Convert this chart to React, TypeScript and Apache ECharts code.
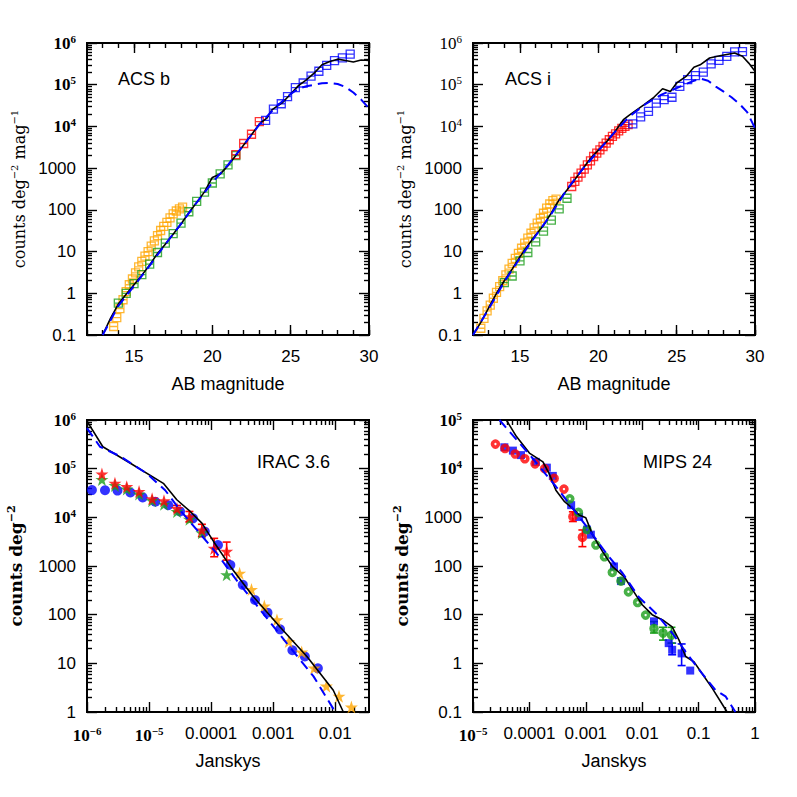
import { useEffect, useRef } from 'react';
import * as echarts from 'echarts';

// ---------- Panel 1: ACS b (AB magnitude, counts deg^-2 mag^-1) ----------
const acsbOrange = [[13.7,0.16],[13.9,0.26],[14.1,0.43],[14.3,0.7],[14.5,1.1],[14.7,1.6],[14.9,2.2],[15.1,3.1],[15.3,4.3],[15.5,5.8],[15.7,7.8],[15.9,10],[16.1,13.5],[16.3,18],[16.5,24],[16.7,32],[16.9,40],[17.1,50],[17.3,64],[17.5,80],[17.7,94],[17.9,106],[18.1,116]];
const acsbGreen = [[14.0,0.58],[14.5,1.0],[15.0,1.7],[15.5,2.8],[16.0,5.0],[16.5,9.5],[17.0,16],[17.5,27],[18.0,48],[18.5,90],[19.0,160],[19.5,265],[20.0,440],[20.5,730],[21.0,1200],[21.5,2000]];
const acsbRed = [[21.5,2100],[22.0,3900],[22.5,6500],[23.0,13000]];
const acsbBlue = [[23.4,14000],[23.9,26000],[24.4,35000],[24.8,52000],[25.3,85000],[25.8,110000],[26.3,160000],[26.8,210000],[27.3,290000],[27.8,380000],[28.3,440000],[28.8,540000]];
const acsbModel = [[13,0.1],[13.5,0.25],[14,0.55],[14.5,0.95],[15,1.6],[15.5,2.7],[16,4.8],[16.5,9],[17,15],[17.5,26],[18,46],[18.5,85],[19,150],[19.5,270],[20,600],[20.5,720],[21,1150],[21.5,2000],[22,3600],[22.5,6300],[23,11500],[23.5,16000],[23.8,25000],[24.5,38000],[25,60000],[25.5,95000],[26,130000],[26.5,190000],[27,300000],[27.5,360000],[28,410000],[28.5,380000],[29,350000],[29.5,390000],[30,380000]];
const acsbNoEvol = [[13,0.1],[14,0.5],[15,1.5],[16,4.6],[17,15],[18,46],[19,150],[20,450],[21,1200],[22,3600],[23,11000],[24,28000],[25,60000],[25.5,80000],[26,92000],[26.5,100000],[27,108000],[27.5,110000],[28,104000],[28.5,88000],[29,65000],[29.5,44000],[30,27000]];

// ---------- Panel 2: ACS i ----------
const acsiOrange = [[12.5,0.145],[12.7,0.25],[12.9,0.38],[13.1,0.52],[13.3,0.76],[13.5,1.05],[13.7,1.45],[13.9,2.0],[14.1,2.75],[14.3,3.8],[14.5,5.2],[14.7,6.9],[14.9,9.1],[15.1,12],[15.3,16],[15.5,21],[15.7,27.5],[15.9,37],[16.1,48],[16.3,63],[16.5,83],[16.7,110],[16.9,138],[17.1,167],[17.3,180]];
const acsiGreen = [[14.0,1.8],[14.5,2.6],[15.0,6],[15.5,9.5],[16.0,17],[16.5,31],[17.0,57],[17.5,105],[18.0,190]];
const acsiRed = [[18.3,363],[18.5,480],[18.7,610],[18.9,760],[19.1,950],[19.3,1200],[19.5,1500],[19.7,1900],[19.9,2300],[20.1,2750],[20.3,3300],[20.5,4000],[20.7,4800],[20.9,5750],[21.1,6600],[21.3,7800],[21.5,9000],[21.7,10000],[21.9,11000]];
const acsiBlue = [[22.2,11500],[22.7,17000],[23.2,23000],[23.7,36000],[24.2,44000],[24.7,50000],[25.2,91000],[25.7,132000],[26.2,165000],[26.7,200000],[27.2,316000],[27.7,384000],[28.2,480000],[28.7,610000],[29.2,620000]];
const acsiModel = [[12,0.1],[12.5,0.2],[13,0.45],[13.5,1.0],[14,2.0],[14.5,3.8],[15,7.5],[15.5,14],[16,25],[16.5,42],[17,85],[17.5,175],[18,300],[18.5,530],[19,950],[19.5,1700],[20,2700],[20.5,4200],[21,7000],[21.6,14500],[22,19000],[22.9,33000],[23.5,48000],[24.1,80000],[24.6,69000],[25,110000],[25.6,158000],[26.1,263000],[26.5,300000],[27.1,437000],[27.6,480000],[28.1,525000],[28.7,575000],[29.2,480000],[29.6,330000],[30,210000]];
const acsiNoEvol = [[12,0.1],[13,0.42],[14,1.9],[15,7],[16,24],[17,80],[18,310],[19,950],[20,2600],[21,7000],[22,17500],[23,34000],[24,57000],[25,83000],[25.5,100000],[26,120000],[26.5,140000],[27,125000],[27.5,90000],[28,68000],[28.5,50000],[29,35000],[29.5,22000],[30,9000]];

// ---------- Panel 3: IRAC 3.6 (Janskys, counts deg^-2) ----------
const iracBlue = [[1.2e-6,36300],[1.95e-6,36000],[3.1e-6,35500],[5.0e-6,32400],[7.9e-6,25700],[1.26e-5,20900],[2.04e-5,17800],[3.16e-5,13200],[5.1e-5,9550],[7.9e-5,5100],[1.29e-4,2700],[2.04e-4,1050],[3.24e-4,410],[5.1e-4,200],[8.1e-4,110],[1.29e-3,50],[2.04e-3,18.6],[3.24e-3,13.8],[5.25e-3,7.9]];
const iracRed = [[1.74e-6,77600],[2.82e-6,50100],[4.37e-6,42700],[6.9e-6,33900],[1.12e-5,24000],[1.74e-5,21900],[2.82e-5,15100],[4.47e-5,10200],[7.1e-5,5500],[1.12e-4,2300],[1.78e-4,2000]];
const iracRedErr = [[2.82e-5,13000,17500],[4.47e-5,8100,13200],[7.1e-5,4000,7200],[1.12e-4,1550,3700],[1.78e-4,1320,3100]];
const iracGreen = [[1.74e-6,60000],[2.82e-6,45000],[4.37e-6,38000],[6.9e-6,30000],[1.12e-5,22000],[1.74e-5,18600],[2.82e-5,13200],[4.47e-5,9100],[7.1e-5,4800],[1.78e-4,660]];
const iracOrange = [[2.88e-4,710],[4.47e-4,330],[7.2e-4,150],[1.15e-3,78],[1.78e-3,28],[2.88e-3,17],[4.57e-3,8],[7.2e-3,3.4],[1.15e-2,2.1],[1.82e-2,1.26]];
const iracModel = [[1.0e-6,950000],[1.8e-6,282000],[5e-6,129000],[1.7e-5,50000],[2.8e-5,23000],[4.6e-5,13200],[7.1e-5,7600],[1.1e-4,3160],[2.04e-4,980],[4.8e-4,234],[1.29e-3,56],[3.5e-3,13.8],[9.3e-3,2.8],[1.35e-2,1.0],[1.6e-2,0.7]];
const iracNoEvol = [[1e-6,680000],[1.62e-6,282000],[3.47e-6,178000],[9.3e-6,79000],[1.82e-5,36000],[3.16e-5,14100],[5.9e-5,5500],[1.23e-4,1820],[2.57e-4,510],[6.2e-4,126],[1.66e-3,25.7],[4.47e-3,5.4],[1e-2,1.0],[1.26e-2,0.7]];

// ---------- Panel 4: MIPS 24 ----------
const mipsRed = [[2.5e-5,32000],[3.7e-5,26000],[5.6e-5,20000],[8.3e-5,16000],[1.26e-4,12600],[1.86e-4,10000],[2.75e-4,6300],[4.1e-4,3800],[5.9e-4,1030],[8.7e-4,390]];
const mipsRedErr = [[5.9e-4,820,1300],[8.7e-4,250,550]];
const mipsBlue = [[3.6e-5,27500],[5.1e-5,23500],[7.1e-5,19000],[1.3e-4,13800],[2.04e-4,10500],[2.6e-4,7100],[5.5e-4,1780],[7.6e-4,1020],[1.05e-3,560],[1.23e-3,440],[3.16e-3,98],[4.2e-3,49],[1.62e-2,7.3],[2.95e-2,2.6],[3.4e-2,1.9],[5e-2,1.6],[7.1e-2,0.71]];
const mipsBlueErr = [[3.4e-2,1.5,2.6],[5e-2,0.9,2.5]];
const mipsGreen = [[5.2e-4,2400],[7.4e-4,1260],[1.05e-3,560],[1.51e-3,270],[2.14e-3,155],[2.95e-3,74],[4.2e-3,49],[5.7e-3,29.5],[8.3e-3,17.8],[1.15e-2,9.8],[1.62e-2,5.2],[2.34e-2,4.2],[3.3e-2,3.8]];
const mipsGreenErr = [[1.62e-2,4.2,7.2],[2.34e-2,3.0,5.5],[3.3e-2,2.6,5.5]];
const mipsModel = [[3.9e-5,100000],[5.9e-5,45700],[1e-4,20900],[1.74e-4,13800],[2.24e-4,7900],[2.95e-4,3600],[4.2e-4,2100],[5.9e-4,1510],[7.6e-4,1120],[1e-3,980],[1.32e-3,436],[2e-3,195],[2.95e-3,98],[4.8e-3,60],[6.8e-3,32],[1e-2,16],[1.5e-2,10],[2.3e-2,7.8],[3.4e-2,5.6],[4.5e-2,3.0],[5.9e-2,1.38],[8.3e-2,1.07],[0.115,0.62],[0.174,0.31],[0.32,0.1]];
const mipsNoEvol = [[2.95e-5,100000],[1.07e-4,17800],[2.95e-4,4300],[5.9e-4,1510],[1.15e-3,550],[2.3e-3,182],[4.5e-3,71],[8.7e-3,23],[1.74e-2,10.7],[3.4e-2,4.2],[6.8e-2,1.38],[0.115,0.62],[0.2,0.28],[0.3,0.21],[0.45,0.1]];

// ---------- Tick values and labels ----------
const magTicks = [15, 20, 25, 30];
const magLabels = ['15', '20', '25', '30'];
const magMinorTicks = [12,13,14,15,16,17,18,19,20,21,22,23,24,25,26,27,28,29,30];

const countTicksTop = [0.1, 1, 10, 100, 1000, 1e4, 1e5, 1e6];
const countLabelsTopB = ['0.1','1','10','100','1000','{e|10}{p|4}','{e|10}{p|5}','{e|10}{p|6}'];
const countLabelsTopI = ['0.1','1','10','100','1000','{r|10}{q|4}','{r|10}{q|5}','{r|10}{q|6}'];
const countTicksIrac = [1, 10, 100, 1000, 1e4, 1e5, 1e6];
const countLabelsIrac = ['1','10','100','1000','{e|10}{p|4}','{e|10}{p|5}','{e|10}{p|6}'];
const countTicksMips = [0.1, 1, 10, 100, 1000, 1e4, 1e5];
const countLabelsMips = ['0.1','1','10','100','1000','{e|10}{p|4}','{e|10}{p|5}'];

const janTicksIrac = [1e-6, 1e-5, 1e-4, 1e-3, 1e-2];
const janLabelsIrac = ['{e|10}{p|−6}','{e|10}{p|−5}','0.0001','0.001','0.01'];
const janTicksMips = [1e-5, 1e-4, 1e-3, 1e-2, 0.1, 1];
const janLabelsMips = ['{e|10}{p|−5}','0.0001','0.001','0.01','0.1','1'];

function logMinors(kFrom: number, kTo: number, lo: number, hi: number) {
  const out: number[] = [];
  for (let k = kFrom; k <= kTo; k++) {
    for (let m = 2; m <= 9; m++) {
      const v = m * Math.pow(10, k);
      if (v >= lo * 0.999999 && v <= hi * 1.000001) out.push(v);
    }
  }
  return out;
}

const SANS = "'Liberation Sans', Arial, Helvetica, sans-serif";
const SERIF = "'Liberation Serif', 'Times New Roman', serif";
const TSERIF = "'DejaVu Serif', serif";
const ORANGE = '#ffa500';
const GREEN = '#1a9e1a';
const RED = '#ff0000';
const BLUE = '#0000ff';
const SQUARE = 'path://M0,0L10,0L10,10L0,10Z M0,5L10,5';
const STAR = 'path://M50,0L61.2,34.5L97.6,34.5L68.2,55.9L79.4,90.5L50,69.1L20.6,90.5L31.8,55.9L2.4,34.5L38.8,34.5Z';

const labelRich = {
  e: { fontFamily: SERIF, fontWeight: 'bold', fontSize: 17, lineHeight: 20, color: '#000' },
  p: { fontFamily: SERIF, fontWeight: 'bold', fontSize: 11, lineHeight: 11, verticalAlign: 'top', color: '#000' },
  r: { fontFamily: SERIF, fontSize: 17, lineHeight: 20, color: '#000' },
  q: { fontFamily: SERIF, fontSize: 11, lineHeight: 11, verticalAlign: 'top', color: '#000' },
};

function labelFor(v: number, vals: number[], labels: string[]) {
  for (let i = 0; i < vals.length; i++) {
    if (Math.abs(v - vals[i]) <= Math.abs(vals[i]) * 1e-6 + 1e-14) return labels[i];
  }
  return '';
}

function axisSet(dim: 'x' | 'y', gridIndex: number, type: 'value' | 'log', min: number, max: number,
  majors: number[], minors: number[], labels: string[], name: any, nameGap: number, nameStyle: any) {
  const posA = dim === 'x' ? 'bottom' : 'left';
  const posB = dim === 'x' ? 'top' : 'right';
  const base: any = { gridIndex, type, min, max, splitLine: { show: false }, axisLine: { show: false }, silent: true };
  if (type === 'log') base.logBase = 10;
  const tick = (vals: number[], len: number) => ({ show: true, inside: true, length: len, customValues: vals, lineStyle: { color: '#000', width: 1.4 } });
  const off = { show: false };
  return [
    {
      ...base, position: posA, axisTick: tick(majors, 10),
      axisLabel: {
        show: true, customValues: majors, margin: dim === 'x' ? 13 : 11, color: '#000',
        fontFamily: SANS, fontSize: 17, rich: labelRich,
        formatter: (v: number) => labelFor(v, majors, labels),
      },
      name, nameLocation: 'middle', nameGap, nameRotate: dim === 'y' ? 90 : 0, nameTextStyle: nameStyle,
    },
    { ...base, position: posA, axisTick: tick(minors, 5), axisLabel: off },
    { ...base, position: posB, axisTick: tick(majors, 10), axisLabel: off },
    { ...base, position: posB, axisTick: tick(minors, 5), axisLabel: off },
  ];
}

const xNameStyle = { fontFamily: SANS, fontSize: 18, color: '#000' };
const yNameTop = {
  color: '#000',
  rich: {
    t: { fontFamily: TSERIF, fontSize: 16, lineHeight: 20, color: '#000' },
    u: { fontFamily: TSERIF, fontSize: 10, lineHeight: 10, verticalAlign: 'top', color: '#000' },
  },
};
const yNameBottom = {
  color: '#000',
  rich: {
    t: { fontFamily: TSERIF, fontWeight: 'bold', fontSize: 17, lineHeight: 20, color: '#000' },
    u: { fontFamily: TSERIF, fontWeight: 'bold', fontSize: 11, lineHeight: 10, verticalAlign: 'top', color: '#000' },
  },
};

const sq = (data: number[][], color: string, a: number) => ({
  type: 'scatter', xAxisIndex: a, yAxisIndex: a, data, symbol: SQUARE, symbolSize: 8, silent: true, z: 2,
  itemStyle: { color: 'rgba(0,0,0,0)', borderColor: color, borderWidth: 1.3 },
});
const filled = (data: number[][], color: string, a: number, symbol: string, size: number) => ({
  type: 'scatter', xAxisIndex: a, yAxisIndex: a, data, symbol, symbolSize: size, silent: true, z: 2,
  itemStyle: { color },
});
const ring = (data: number[][], color: string, a: number) => ({
  type: 'scatter', xAxisIndex: a, yAxisIndex: a, data, symbol: 'circle', symbolSize: 6, silent: true, z: 2,
  itemStyle: { color: 'rgba(0,0,0,0)', borderColor: color, borderWidth: 3.6 },
});
const ln = (data: number[][], a: number, dashed: boolean) => ({
  type: 'line', xAxisIndex: a, yAxisIndex: a, data, showSymbol: false, symbol: 'none', silent: true, z: 3,
  lineStyle: dashed ? { color: BLUE, width: 2, type: [10, 6] } : { color: '#000', width: 1.6 },
});
const err = (data: number[][], color: string, a: number) => ({
  type: 'custom', xAxisIndex: a, yAxisIndex: a, data, encode: { x: 0, y: [1, 2] }, silent: true, z: 2,
  renderItem: (_p: any, api: any) => {
    const x = api.value(0);
    const lo = api.coord([x, api.value(1)]);
    const hi = api.coord([x, api.value(2)]);
    const st = { stroke: color, lineWidth: 1.6 };
    return {
      type: 'group',
      children: [
        { type: 'line', shape: { x1: lo[0], y1: lo[1], x2: hi[0], y2: hi[1] }, style: st },
        { type: 'line', shape: { x1: lo[0] - 4, y1: lo[1], x2: lo[0] + 4, y2: lo[1] }, style: st },
        { type: 'line', shape: { x1: hi[0] - 4, y1: hi[1], x2: hi[0] + 4, y2: hi[1] }, style: st },
      ],
    };
  },
});

export default function App() {
  const ref = useRef<HTMLDivElement>(null);
  useEffect(() => {
    if (!ref.current) return;
    const chart = echarts.init(ref.current, undefined, { renderer: 'svg' });
    const gridBase = { show: true, borderColor: '#000', borderWidth: 2, backgroundColor: 'transparent', containLabel: false, outerBoundsMode: 'none' };
    const grids = [
      { ...gridBase, left: 87, top: 43, width: 282, height: 292 },
      { ...gridBase, left: 473, top: 43, width: 282, height: 292 },
      { ...gridBase, left: 87, top: 420, width: 282, height: 292 },
      { ...gridBase, left: 473, top: 420, width: 282, height: 292 },
    ];
    const yNameTopText = '{t|counts deg}{u|−2}{t| mag}{u|−1}';
    const yNameBottomText = '{t|counts deg}{u|−2}';
    const xAxes = [
      ...axisSet('x', 0, 'value', 12, 30, magTicks, magMinorTicks, magLabels, 'AB magnitude', 40, xNameStyle),
      ...axisSet('x', 1, 'value', 12, 30, magTicks, magMinorTicks, magLabels, 'AB magnitude', 40, xNameStyle),
      ...axisSet('x', 2, 'log', 1e-6, 0.035, janTicksIrac, logMinors(-6, -2, 1e-6, 0.035), janLabelsIrac, 'Janskys', 40, xNameStyle),
      ...axisSet('x', 3, 'log', 1e-5, 1, janTicksMips, logMinors(-5, -1, 1e-5, 1), janLabelsMips, 'Janskys', 40, xNameStyle),
    ];
    const yAxes = [
      ...axisSet('y', 0, 'log', 0.1, 1e6, countTicksTop, logMinors(-1, 5, 0.1, 1e6), countLabelsTopB, yNameTopText, 58, yNameTop),
      ...axisSet('y', 1, 'log', 0.1, 1e6, countTicksTop, logMinors(-1, 5, 0.1, 1e6), countLabelsTopI, yNameTopText, 58, yNameTop),
      ...axisSet('y', 2, 'log', 1, 1e6, countTicksIrac, logMinors(0, 5, 1, 1e6), countLabelsIrac, yNameBottomText, 61, yNameBottom),
      ...axisSet('y', 3, 'log', 0.1, 1e5, countTicksMips, logMinors(-1, 4, 0.1, 1e5), countLabelsMips, yNameBottomText, 61, yNameBottom),
    ];
    const A0 = 0, A1 = 4, A2 = 8, A3 = 12;
    const series = [
      sq(acsbOrange, ORANGE, A0), sq(acsbGreen, GREEN, A0), sq(acsbRed, RED, A0), sq(acsbBlue, BLUE, A0),
      ln(acsbModel, A0, false), ln(acsbNoEvol, A0, true),
      sq(acsiOrange, ORANGE, A1), sq(acsiGreen, GREEN, A1), sq(acsiRed, RED, A1), sq(acsiBlue, BLUE, A1),
      ln(acsiModel, A1, false), ln(acsiNoEvol, A1, true),
      filled(iracBlue, BLUE, A2, 'circle', 10),
      filled(iracGreen, GREEN, A2, STAR, 13),
      err(iracRedErr, RED, A2),
      filled(iracRed, RED, A2, STAR, 13),
      filled(iracOrange, ORANGE, A2, STAR, 13),
      ln(iracModel, A2, false), ln(iracNoEvol, A2, true),
      err(mipsBlueErr, BLUE, A3),
      filled(mipsBlue, BLUE, A3, 'rect', 8),
      err(mipsRedErr, RED, A3),
      ring(mipsRed, RED, A3),
      err(mipsGreenErr, GREEN, A3),
      ring(mipsGreen, GREEN, A3),
      ln(mipsModel, A3, false), ln(mipsNoEvol, A3, true),
    ];
    const txt = (text: string, x: number, y: number) => ({
      type: 'text', x, y, silent: true,
      style: { text, fill: '#000', font: `18px ${SANS}`, textVerticalAlign: 'middle', verticalAlign: 'middle' },
    });
    chart.setOption({
      animation: false,
      backgroundColor: '#fff',
      grid: grids,
      xAxis: xAxes,
      yAxis: yAxes,
      series,
      graphic: [
        txt('ACS b', 118, 79),
        txt('ACS i', 505, 79),
        txt('IRAC 3.6', 257, 462),
        txt('MIPS 24', 643, 462),
      ],
    } as any);
    return () => chart.dispose();
  }, []);
  return <div ref={ref} style={{ position: 'absolute', left: 0, top: 0, width: 797, height: 797 }} />;
}
